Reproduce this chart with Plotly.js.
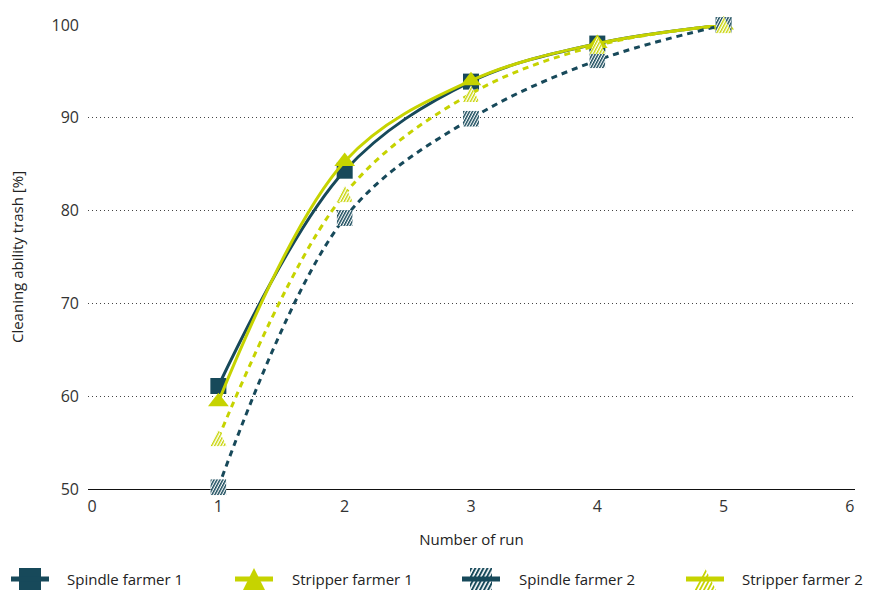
<!DOCTYPE html>
<html><head><meta charset="utf-8">
<script src="https://cdn.plot.ly/plotly-3.0.1.min.js"></script>
<style>html,body{margin:0;padding:0;background:#fff}#chart{width:870px;height:592px}</style>
</head><body><div id="chart"></div>
<script>
// ---- data ----
const runs = [1, 2, 3, 4, 5];
const spindleFarmer1 = [61.1, 84.3, 93.9, 98.0, 100];
const stripperFarmer1 = [59.4, 85.3, 94.0, 98.0, 100];
const spindleFarmer2 = [50.2, 79.2, 89.9, 96.2, 100];
const stripperFarmer2 = [55.5, 81.8, 92.6, 97.8, 100];
const seriesNames = ['Spindle farmer 1', 'Stripper farmer 1', 'Spindle farmer 2', 'Stripper farmer 2'];
const xTicks = [0, 1, 2, 3, 4, 5, 6];
const yTicks = [50, 60, 70, 80, 90, 100];

// ---- styling ----
const DARK = '#17495a';
const LIME = '#c6d300';
const FONT = '"Open Sans", "Noto Sans", sans-serif';
const W = 870, H = 592;
const M = {l: 88, r: 15, t: 25, b: 103};
const plotW = W - M.l - M.r, plotH = H - M.t - M.b;
const xRange = [-0.032, 6.04], yRange = [50, 100];

function svgUri(s){ return 'data:image/svg+xml;charset=utf-8,' + encodeURIComponent(s); }
function hatchSquare(c){
  return svgUri(`<svg xmlns='http://www.w3.org/2000/svg' width='40' height='40' viewBox='0 0 40 40'><defs><pattern id='h' width='6.5' height='40' patternUnits='userSpaceOnUse' patternTransform='rotate(28 20 20)'><rect x='0' y='-10' width='3.6' height='60' fill='${c}'/></pattern></defs><rect width='40' height='40' fill='#fff'/><rect width='40' height='40' fill='url(#h)'/></svg>`);
}
function hatchTriangle(c){
  return svgUri(`<svg xmlns='http://www.w3.org/2000/svg' width='40' height='40' viewBox='0 0 40 40'><defs><pattern id='h' width='6.5' height='40' patternUnits='userSpaceOnUse' patternTransform='rotate(28 20 20)'><rect x='0' y='-10' width='3.2' height='60' fill='${c}'/></pattern><clipPath id='c'><polygon points='20,0 40,40 0,40'/></clipPath></defs><g clip-path='url(#c)'><rect width='40' height='40' fill='#fff'/><rect width='40' height='40' fill='url(#h)'/></g></svg>`);
}
function solidSquare(c){ return svgUri(`<svg xmlns='http://www.w3.org/2000/svg' width='40' height='40'><rect width='40' height='40' fill='${c}'/></svg>`); }
function solidTriangle(c){ return svgUri(`<svg xmlns='http://www.w3.org/2000/svg' width='40' height='40'><polygon points='20,0 40,40 0,40' fill='${c}'/></svg>`); }

const px2paperX = p => (p - M.l) / plotW;
const px2paperY = p => (H - M.b - p) / plotH;
const dataX2paper = x => (x - xRange[0]) / (xRange[1] - xRange[0]);
const dataY2paper = y => (y - yRange[0]) / (yRange[1] - yRange[0]);

const traces = [
  {x: runs, y: spindleFarmer1, name: seriesNames[0], mode: 'lines+markers', line: {color: DARK, width: 3, shape: 'spline', smoothing: 1},
   marker: {symbol: 'square', size: 16, color: DARK}, cliponaxis: false},
  {x: runs, y: stripperFarmer1, name: seriesNames[1], mode: 'lines+markers', line: {color: LIME, width: 3, shape: 'spline', smoothing: 1},
   marker: {symbol: 'triangle-up', size: 18, color: LIME}, cliponaxis: false},
  {x: runs, y: spindleFarmer2, name: seriesNames[2], mode: 'lines', line: {color: DARK, width: 3, dash: '6px,5px', shape: 'spline', smoothing: 1}, cliponaxis: false},
  {x: runs, y: stripperFarmer2, name: seriesNames[3], mode: 'lines', line: {color: LIME, width: 3, dash: '6px,5px', shape: 'spline', smoothing: 1}, cliponaxis: false}
];

const images = [];
const MS = 16;
runs.forEach((r, i) => {
  images.push({source: hatchSquare(DARK), xref: 'paper', yref: 'paper', x: dataX2paper(r), y: dataY2paper(spindleFarmer2[i]),
    sizex: MS / plotW, sizey: MS / plotH, xanchor: 'center', yanchor: 'middle', sizing: 'stretch', layer: 'above'});
});
runs.forEach((r, i) => {
  images.push({source: hatchTriangle(LIME), xref: 'paper', yref: 'paper', x: dataX2paper(r), y: dataY2paper(stripperFarmer2[i]) ,
    sizex: 17 / plotW, sizey: 17 / plotH, xanchor: 'center', yanchor: 'middle', sizing: 'stretch', layer: 'above'});
});

// custom legend
const legendItems = [
  {x: 30, tx: 65, color: DARK, src: solidSquare(DARK)},
  {x: 254, tx: 290, color: LIME, src: solidTriangle(LIME)},
  {x: 481, tx: 517, color: DARK, src: hatchSquare(DARK)},
  {x: 705, tx: 740, color: LIME, src: hatchTriangle(LIME)}
];
const LY = 579;
const shapes = [], annotations = [];
legendItems.forEach((it, i) => {
  shapes.push({type: 'line', xref: 'paper', yref: 'paper', x0: px2paperX(it.x - 19), x1: px2paperX(it.x + 19), y0: px2paperY(LY), y1: px2paperY(LY),
    line: {color: it.color, width: 5}, layer: 'above'});
  images.push({source: it.src, xref: 'paper', yref: 'paper', x: px2paperX(it.x), y: px2paperY(LY), sizex: 22 / plotW, sizey: 22 / plotH,
    xanchor: 'center', yanchor: 'middle', sizing: 'stretch', layer: 'above'});
  annotations.push({text: seriesNames[i], xref: 'paper', yref: 'paper', x: px2paperX(it.tx), y: px2paperY(LY), xanchor: 'left', yanchor: 'middle',
    showarrow: false, font: {family: FONT, size: 15, color: '#222'}});
});

const layout = {
  width: W, height: H, margin: M, paper_bgcolor: '#fff', plot_bgcolor: '#fff', showlegend: false,
  font: {family: FONT, size: 15, color: '#333'},
  xaxis: {range: xRange, tickvals: xTicks, ticktext: xTicks.map(String), showgrid: false, zeroline: false,
    showline: true, linecolor: '#111', linewidth: 1.2, ticks: '', tickfont: {size: 16, color: '#333'}, ticklabelstandoff: 3,
    title: {text: 'Number of run', font: {size: 15, color: '#222'}, standoff: 18}},
  yaxis: {range: yRange, tickvals: yTicks, ticktext: yTicks.map(String), showgrid: true, gridcolor: '#444', gridwidth: 1, griddash: '1px,3px',
    zeroline: false, showline: false, ticks: '', tickfont: {size: 16, color: '#333'}, ticklabelstandoff: 8,
    title: {text: 'Cleaning ability trash [%]', font: {size: 15, color: '#222'}, standoff: 24}},
  images, shapes, annotations
};
Plotly.newPlot('chart', traces, layout, {displayModeBar: false, staticPlot: true});
</script></body></html>
